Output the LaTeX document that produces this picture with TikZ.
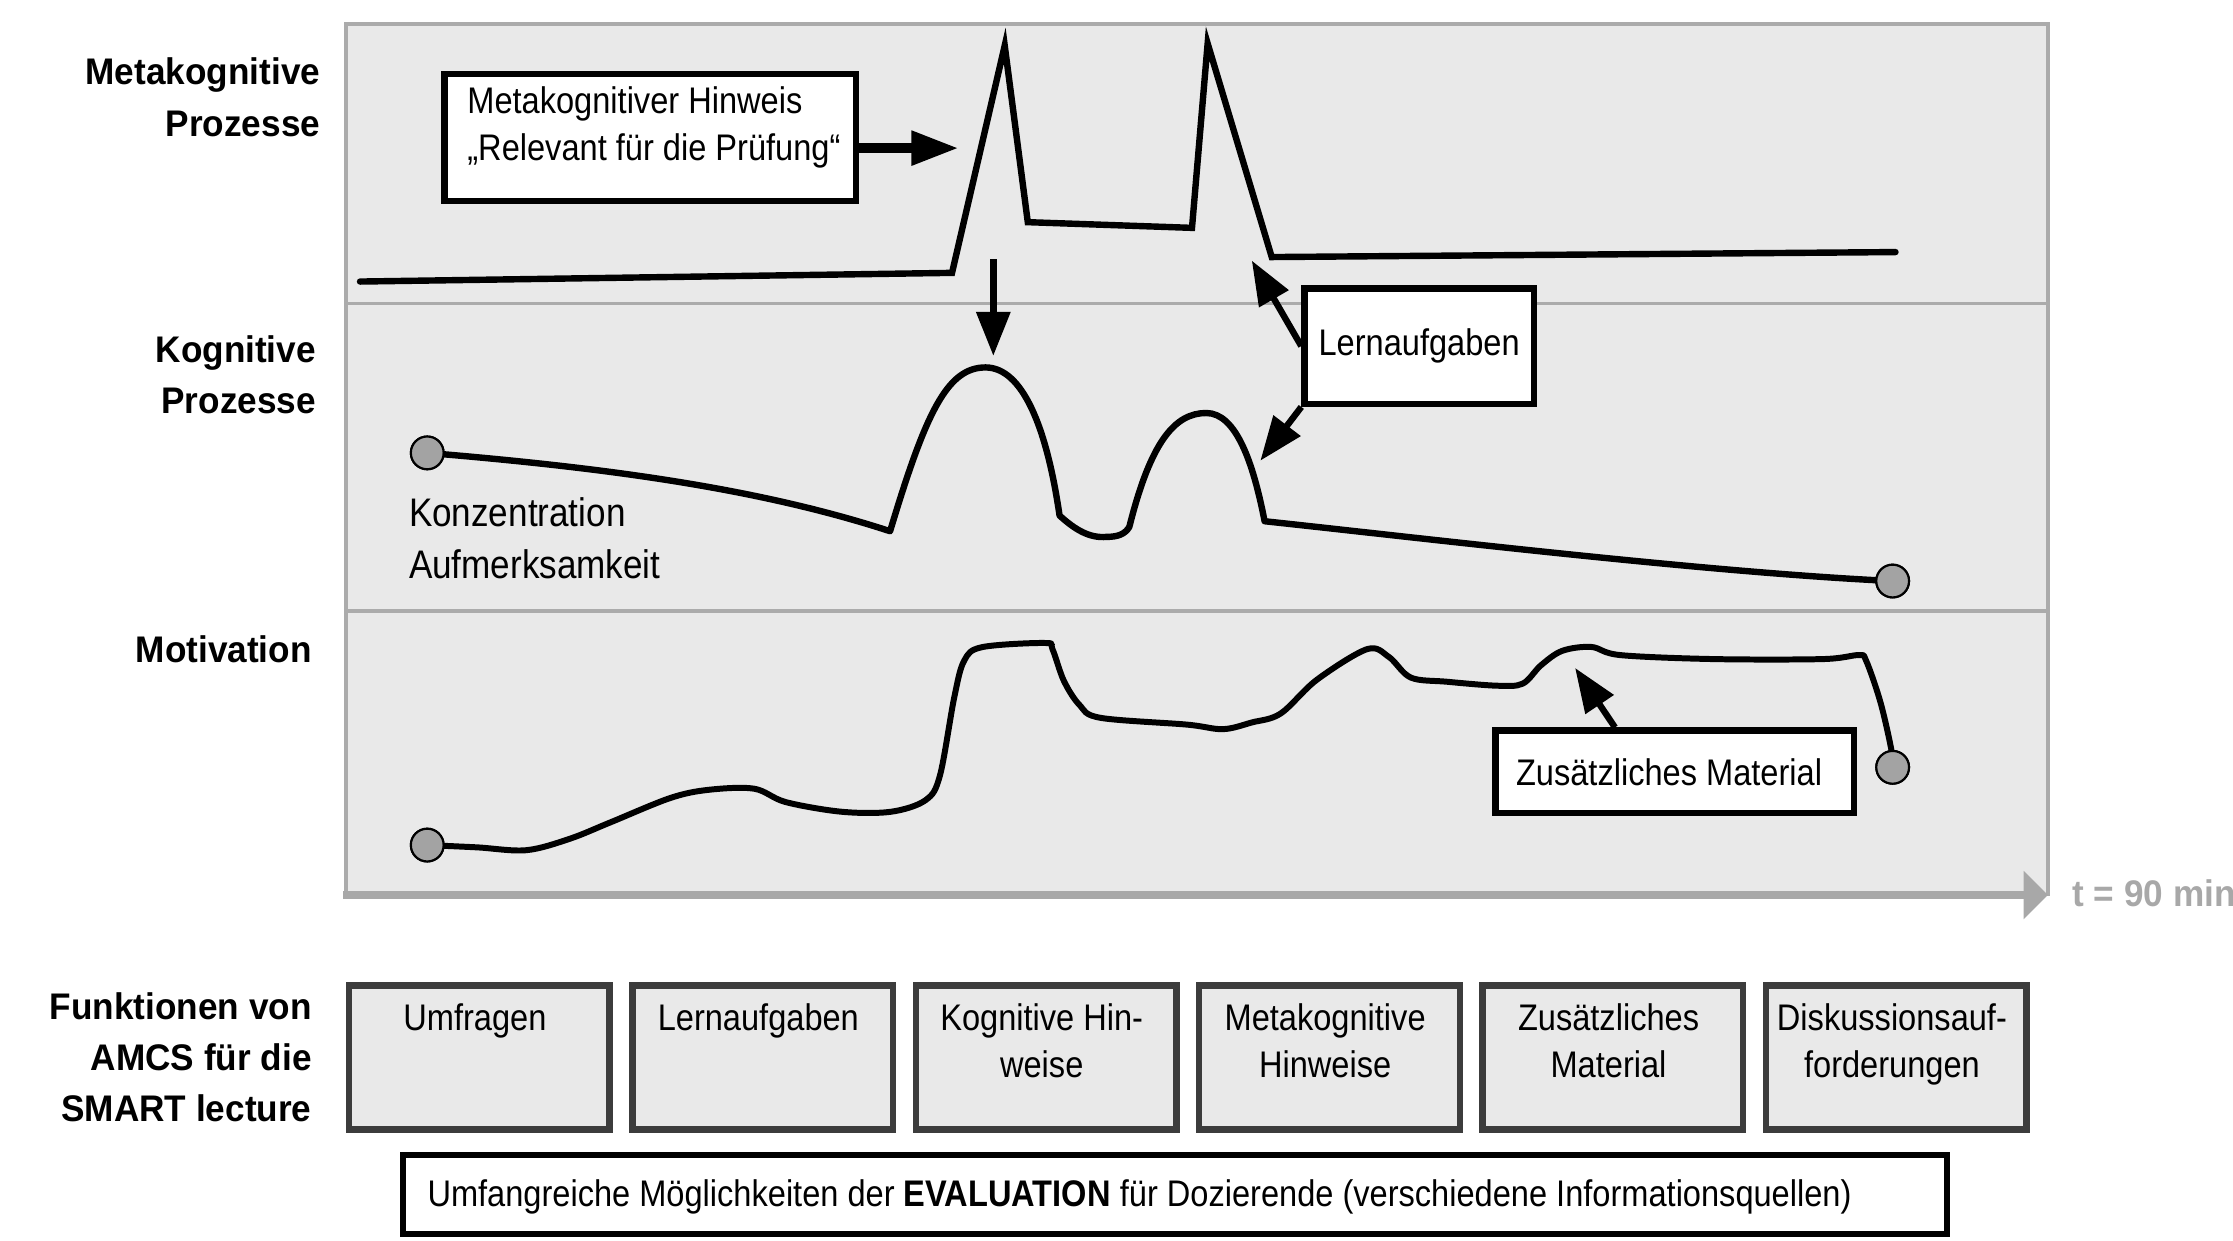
\documentclass[tikz,border=0pt]{standalone}
\usepackage{fontspec}
\setmainfont{Liberation Sans}[FakeStretch=0.88]
\newfontfamily\lblfont{Liberation Sans}[FakeStretch=0.95]
\usetikzlibrary{arrows.meta,calc}
\definecolor{panelgray}{HTML}{E9E9E9}
\definecolor{bordergray}{HTML}{ABABAB}
\definecolor{boxborder}{HTML}{3C3C3C}
\definecolor{dotgray}{HTML}{A3A3A3}
\definecolor{axisgray}{HTML}{A8A8A8}
\begin{document}
\begin{tikzpicture}[x=1pt,y=-1pt,
  txt/.style={font=\fontsize{26}{33}\selectfont, inner sep=0pt},
  lbl/.style={font=\lblfont\bfseries\fontsize{26}{36}\selectfont, inner sep=0pt, align=right, anchor=north east},
  whitebox/.style={draw=black, fill=white, line width=4.5pt, inner sep=0pt},
  funcbox/.style={draw=boxborder, fill=panelgray, line width=4.5pt, minimum width=183pt, minimum height=101pt, inner sep=0pt},
  functext/.style={font=\fontsize{26}{33}\selectfont, inner sep=0pt, align=center, anchor=north},
  curve/.style={line width=4.5pt, line join=miter, line cap=round},
  dot/.style={circle, draw=black, fill=dotgray, line width=1.5pt, minimum size=23pt, inner sep=0pt},
  bigarrow/.style={-{Triangle[length=31pt,width=23pt]}, line width=5pt},
]
\useasboundingbox (0,0) rectangle (1568,871);

% panel
\draw[bordergray, line width=2.5pt, fill=panelgray] (243,17) rectangle (1438,628);
\draw[bordergray, line width=2.5pt] (243,213) -- (1438,213);
\draw[bordergray, line width=2.5pt] (243,429) -- (1438,429);
\draw[axisgray, line width=6pt, -{Triangle[length=17pt,width=33pt]}] (241,628.5) -- (1438,628.5);
\node[font=\lblfont\bfseries\fontsize{26}{30}\selectfont, text=axisgray, anchor=west, inner sep=0pt] (tlabel) at (1455,627) {t = 90 min};

% left labels
\node[lbl] (lmeta) at (225,40.5) {Metakognitive\\Prozesse};
\node[lbl] (lkog) at (222,235.5) {Kognitive\\Prozesse};
\node[lbl] (lmot) at (219,446.5) {Motivation};
\node[lbl] (lfun) at (219,696.5) {Funktionen von\\AMCS für die\\SMART lecture};

% metacognitive line
\draw[curve] (252.8,197.7) -- (668.5,191.6) -- (705.5,32) -- (721.7,156) -- (837,160) -- (848,30.5) -- (893,180.5) -- (1331,177);

% circles
\node[dot] (k0) at (300,318) {};
\node[dot] (k1) at (1329,408) {};
\node[dot] (m0) at (300,593.4) {};
\node[dot] (m1) at (1329,538.8) {};

% cognitive line
\draw[curve, line join=round] (k0.center) .. controls (420,328) and (530,342) .. (625,373)
  .. controls (650,290) and (665,258) .. (692,258)
  .. controls (718,258) and (735,300) .. (744,362)
  .. controls (755,372) and (765,378) .. (777,377)
  .. controls (785,377) and (790,375) .. (793,370)
  .. controls (808,310) and (825,290) .. (847,290)
  .. controls (868,290) and (880,325) .. (888,366)
  .. controls (1000,378) and (1200,402) .. (k1.center);

% motivation line
\draw[curve, line width=4.2pt, line join=round] plot[smooth, tension=0.55] coordinates {
(m0.center) (335,595) (369.5,597) (400,589) (428.5,577.5) (470.5,560.4) (497.5,554.6) (529.5,553.8)
(551.7,563.2) (591,570) (625.6,570) (650,561.8) (660,544.6) (670,490) (677,464) (689.7,454.4)
(734,451.5) (739,455.8) (747,478) (758,495) (772.5,504) (833.4,508.8) (858.7,512)
(879,507.3) (899.3,501) (924.7,477.3) (960,455.8) (975.4,461.4) (990.7,475.8) (1016,478.7)
(1051.5,481.5) (1069.3,480) (1082,467.2) (1097,457) (1117.5,454.3) (1137.8,460) (1203.7,462.8)
(1279.8,462.8) (1305.3,460) (1310.4,464) (1320.4,493) (1328,526) (m1.center)};

% redraw circles on top
\node[dot] at (k0) {};
\node[dot] at (k1) {};
\node[dot] at (m0) {};
\node[dot] at (m1) {};

% Konzentration text
\node[inner sep=0pt, anchor=north west, align=left, font=\fontsize{28}{37}\selectfont] (konz) at (287,349) {Konzentration\\Aufmerksamkeit};

% metacognitive hint box
\node[whitebox, minimum width=289pt, minimum height=89pt] (mk) at (456.5,96.5) {};
\node[txt, anchor=north west, align=left] (mktext) at (328,60.6) {Metakognitiver Hinweis\\„Relevant für die Prüfung“};
\coordinate (mktip) at (673,104);
\draw[-{Triangle[length=33pt,width=23pt]}, line width=6.5pt] (mk.east |- mktip) -- (mktip);

% down arrow
\coordinate (dstart) at (697.5,182);
\coordinate (dtip) at (697.5,250);
\draw[bigarrow] (dstart) -- (dtip);

% Lernaufgaben
\node[whitebox, txt, line width=4.5pt, draw, fill=white, minimum width=161pt, minimum height=81pt] (lern) at (996.5,243) {Lernaufgaben};
\coordinate (ltip1) at (879,183);
\coordinate (ltip2) at (885,323.5);
\draw[bigarrow, line width=4.5pt] (lern.west) -- (ltip1);
\draw[bigarrow, line width=4.5pt] (lern.south west) -- (ltip2);

% Zusaetzliches Material
\node[whitebox, txt, line width=4.5pt, draw, fill=white, minimum width=252pt, minimum height=58pt, xshift=0pt] (zus) at (1176,542) {\hspace*{-8pt}Zusätzliches Material};
\coordinate (ztip) at (1106,469);
\draw[bigarrow, line width=4.5pt] ($(zus.north)+(-42,0)$) -- (ztip);

% function boxes
\node[funcbox] (f1) at (336.5,742.5) {};
\node[funcbox] (f2) at (535.5,742.5) {};
\node[funcbox] (f3) at (734.5,742.5) {};
\node[funcbox] (f4) at (933.5,742.5) {};
\node[funcbox] (f5) at (1132.5,742.5) {};
\node[funcbox] (f6) at (1331.5,742.5) {};
\node[functext] (t1) at (333.5,704.5) {Umfragen};
\node[functext] (t2) at (532.5,704.5) {Lernaufgaben};
\node[functext] (t3) at (731.5,704.5) {Kognitive Hin-\\weise};
\node[functext] (t4) at (930.5,704.5) {Metakognitive\\Hinweise};
\node[functext] (t5) at (1129.5,704.5) {Zusätzliches\\Material};
\node[functext] (t6) at (1328.5,704.5) {Diskussionsauf-\\forderungen};

% evaluation box
\node[whitebox, minimum width=1084pt, minimum height=55.5pt] (ev) at (825,838.75) {};
\node[txt, anchor=base west] (evtext) at (300,847.3) {Umfangreiche Möglichkeiten der \textbf{EVALUATION} für Dozierende (verschiedene Informationsquellen)};
\end{tikzpicture}
\end{document}
